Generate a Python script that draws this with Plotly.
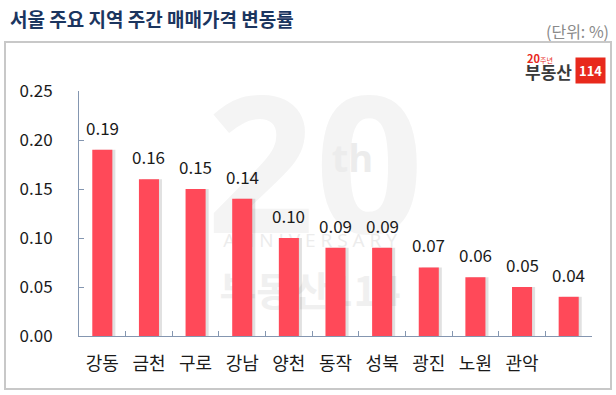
import plotly.graph_objects as go

# ---- data ----
region_keys = ["강동", "금천", "구로", "강남", "양천", "동작", "성북", "광진", "노원", "관악", "기타"]
region_labels = ["강동", "금천", "구로", "강남", "양천", "동작", "성북", "광진", "노원", "관악", ""]
change_rate = [0.19, 0.16, 0.15, 0.14, 0.10, 0.09, 0.09, 0.07, 0.06, 0.05, 0.04]
value_text = ["0.19", "0.16", "0.15", "0.14", "0.10", "0.09", "0.09", "0.07", "0.06", "0.05", "0.04"]
y_ticks = [0.00, 0.05, 0.10, 0.15, 0.20, 0.25]

W, H = 616, 395
L, R, T, B = 79, 592, 91, 336  # plot area in pixels

def px(x):
    return (x - L) / (R - L)

def py(y):
    return (B - y) / (B - T)

FONT = "Noto Sans CJK KR"
BAR = "#FF4959"

fig = go.Figure()

# soft shadow to the right of each bar
fig.add_trace(go.Bar(
    x=region_keys, y=change_rate, width=0.43, offset=-0.215 + 0.065,
    marker=dict(color="rgba(90,90,90,0.18)", line=dict(width=0)),
    hoverinfo="skip", showlegend=False,
))
fig.add_trace(go.Bar(
    x=region_keys, y=change_rate, width=0.43, offset=-0.215,
    marker=dict(color=BAR, line=dict(width=0)),
    showlegend=False,
))

annotations = []
for k, v, t in zip(region_keys, change_rate, value_text):
    annotations.append(dict(
        x=k, y=v, xref="x", yref="y", text=t, showarrow=False,
        yanchor="bottom", yshift=8,
        font=dict(family=FONT, size=17, color="#1a1a1a"),
    ))

# title + unit
annotations.append(dict(
    x=px(8), y=py(18), xref="paper", yref="paper", xanchor="left", yanchor="middle",
    text="<b>서울 주요 지역 주간 매매가격 변동률</b>", showarrow=False,
    font=dict(family=FONT, size=19, color="#1B355F"),
))
annotations.append(dict(
    x=px(611), y=py(31), xref="paper", yref="paper", xanchor="right", yanchor="middle",
    text="(단위: %)", showarrow=False,
    font=dict(family=FONT, size=16, color="#8a8a8a"),
))

# logo
annotations.append(dict(
    x=px(525), y=py(58), xref="paper", yref="paper", xanchor="left", yanchor="middle",
    text="<b>20</b><span style='font-size:7px'>주년</span>", showarrow=False,
    font=dict(family=FONT, size=11, color="#E8291C"),
))
annotations.append(dict(
    x=px(523), y=py(72), xref="paper", yref="paper", xanchor="left", yanchor="middle",
    text="<b>부동산</b>", showarrow=False,
    font=dict(family=FONT, size=17, color="#3a3a3a"),
))
annotations.append(dict(
    x=px(590), y=py(70), xref="paper", yref="paper", xanchor="center", yanchor="middle",
    text="<b>114</b>", showarrow=False, bgcolor="#E8291C", borderpad=3,
    font=dict(family=FONT, size=13, color="#ffffff"),
))

shapes = [
    # outer panel border
    dict(type="rect", xref="paper", yref="paper",
         x0=px(5), x1=px(611), y0=py(42), y1=py(389),
         line=dict(color="#c8c8c8", width=2), fillcolor="rgba(0,0,0,0)", layer="below"),
    # watermark pieces (behind bars)
    dict(type="rect", xref="paper", yref="paper",
         x0=px(210), x1=px(420), y0=py(255), y1=py(90),
         line=dict(width=0), fillcolor="rgba(0,0,0,0)", layer="below",
         label=dict(text="<b>20</b>", textposition="middle center",
                    font=dict(family="Open Sans", size=190, color="#f4f4f4"))),
    dict(type="rect", xref="paper", yref="paper",
         x0=px(325), x1=px(380), y0=py(185), y1=py(135),
         line=dict(width=0), fillcolor="rgba(0,0,0,0)", layer="below",
         label=dict(text="<b>th</b>", textposition="middle center",
                    font=dict(family="Open Sans", size=38, color="#ececec"))),
    dict(type="rect", xref="paper", yref="paper",
         x0=px(205), x1=px(415), y0=py(255), y1=py(227),
         line=dict(width=0), fillcolor="rgba(0,0,0,0)", layer="below",
         label=dict(text="A N N I V E R S A R Y", textposition="middle center",
                    font=dict(family="Open Sans", size=19, color="#ececec"))),
    dict(type="rect", xref="paper", yref="paper",
         x0=px(205), x1=px(415), y0=py(318), y1=py(272),
         line=dict(width=0), fillcolor="rgba(0,0,0,0)", layer="below",
         label=dict(text="<b>부동산114</b>", textposition="middle center",
                    font=dict(family=FONT, size=40, color="#f0f0f0"))),
]

fig.update_layout(
    width=W, height=H,
    margin=dict(l=L, r=W - R, t=T, b=H - B),
    paper_bgcolor="white", plot_bgcolor="rgba(0,0,0,0)",
    barmode="overlay", bargap=0.57,
    annotations=annotations, shapes=shapes,
    showlegend=False,
)
fig.update_xaxes(
    type="category", categoryorder="array", categoryarray=region_keys,
    tickmode="array", tickvals=region_keys, ticktext=region_labels,
    tickson="boundaries", ticks="inside", ticklen=5, tickcolor="#8496b0",
    showline=True, linecolor="#8496b0", linewidth=1,
    showgrid=False, zeroline=False,
    tickfont=dict(family=FONT, size=18, color="#1a1a1a"),
    ticklabelstandoff=11, range=[-0.5, 10.5],
)
fig.update_yaxes(
    range=[0, 0.25], tickmode="array", tickvals=y_ticks, tickformat=".2f",
    ticks="inside", ticklen=5, tickcolor="#8496b0",
    showline=True, linecolor="#8496b0", linewidth=1,
    showgrid=False, zeroline=False,
    tickfont=dict(family=FONT, size=17, color="#1a1a1a"),
    ticklabelstandoff=22,
)

fig.write_html("out.html", config={"displayModeBar": False},
               post_script="document.body.style.margin='0';")
